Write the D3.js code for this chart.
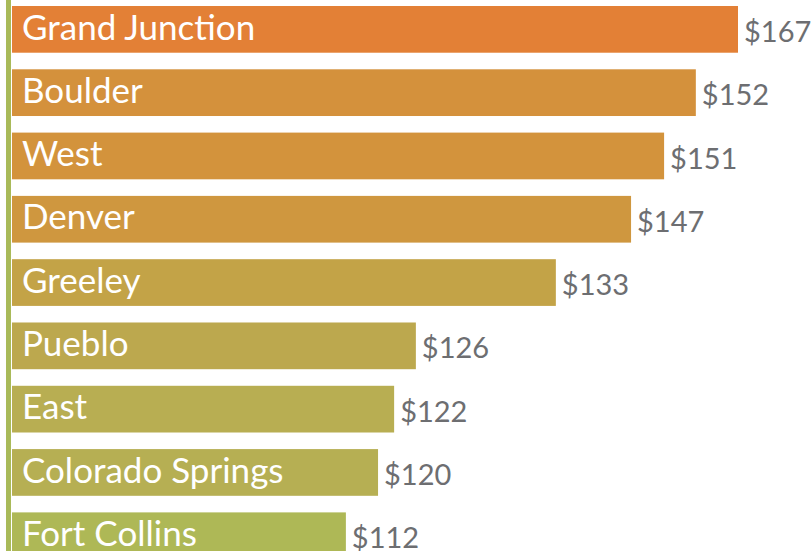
<!DOCTYPE html>
<html>
<head>
<meta charset="utf-8">
<script src="https://cdn.jsdelivr.net/npm/d3@7"></script>
<style>
  html, body { margin: 0; padding: 0; background: #fff; }
  svg { display: block; }
</style>
</head>
<body>
<svg id="chart" width="812" height="551"></svg>
<script>
// ---- data ----
const cities = ["Grand Junction", "Boulder", "West", "Denver", "Greeley", "Pueblo", "East", "Colorado Springs", "Fort Collins"];
const values = [167, 152, 151, 147, 133, 126, 122, 120, 112];
// bar extents as drawn in the original graphic (in $ units, not proportional to labels)
const barExtent = [167, 157.3, 150.0, 142.4, 125.1, 92.9, 87.9, 84.2, 76.8];
const valueLabels = ["$167", "$152", "$151", "$147", "$133", "$126", "$122", "$120", "$112"];

// ---- style ----
const palette = ["#E38036", "#D4913C", "#D3933C", "#CF973F", "#C3A347", "#BCA84E", "#B8AE52", "#B6AF53", "#AEB856"];
const W = 812, H = 551;
const svg = d3.select("#chart");

const x = d3.scaleLinear().domain([0, 167]).range([12, 738]);
const y = d3.scaleBand().domain(cities).range([6, 559.1]).paddingInner(0.262).paddingOuter(0);

const rows = cities.map((c, i) => ({ city: c, value: values[i], extent: barExtent[i], label: valueLabels[i], color: palette[i] }));

svg.selectAll("rect.bar").data(rows).join("rect")
  .attr("class", "bar")
  .attr("x", x(0))
  .attr("y", d => y(d.city))
  .attr("width", d => x(d.extent) - x(0))
  .attr("height", y.bandwidth())
  .attr("fill", d => d.color);

// left axis line
svg.append("rect").attr("x", 6).attr("y", 0).attr("width", 5).attr("height", H).attr("fill", "#A9BA59");

svg.selectAll("text.name").data(rows).join("text")
  .attr("class", "name")
  .attr("x", 22)
  .attr("y", d => y(d.city) + 33.5)
  .attr("fill", "#fff")
  .style("font-family", "Lato, 'Open Sans', sans-serif")
  .style("font-size", "35px")
  .text(d => d.city);

svg.selectAll("text.val").data(rows).join("text")
  .attr("class", "val")
  .attr("x", d => x(d.extent) + 6)
  .attr("y", d => y(d.city) + 36)
  .attr("fill", "#6D6E71")
  .style("font-family", "Lato, 'Open Sans', sans-serif")
  .style("font-size", "29px")
  .text(d => d.label);
</script>
</body>
</html>
